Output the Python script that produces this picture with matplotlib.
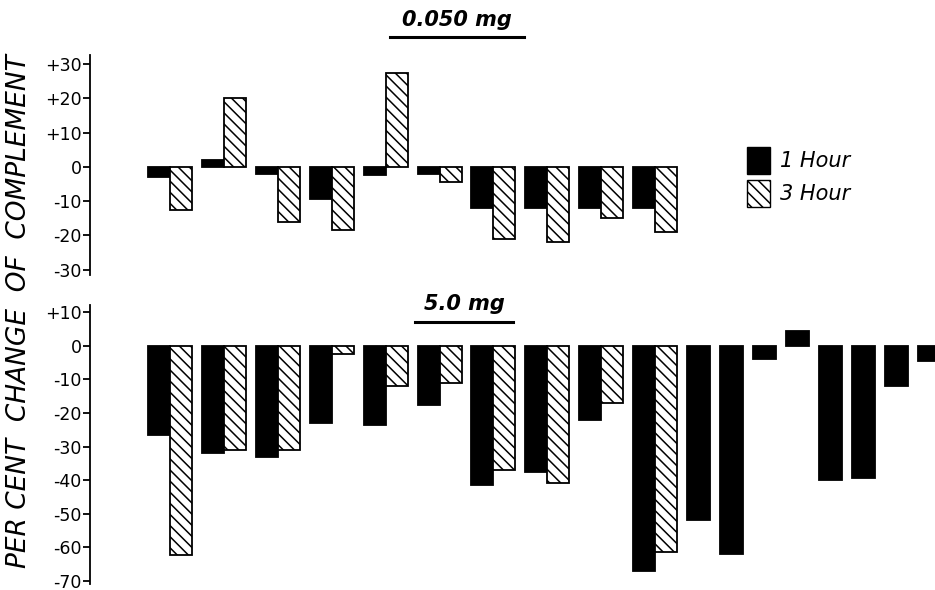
import numpy as np
import matplotlib.pyplot as plt
from matplotlib.patches import Patch

# per cent change of complement, paired groups (1 hour, 3 hour)
low_1h = [-3, 2, -2, -9.5, -2.5, -2, -12, -12, -12, -12]
low_3h = [-12.5, 20, -16, -18.5, 27.5, -4.5, -21, -22, -15, -19]

high_1h = [-26.5, -32, -33, -23, -23.5, -17.5, -41.5, -37.5, -22, -67]
high_3h = [-62.5, -31, -31, -2.5, -12, -11, -37, -41, -17, -61.5]
# 5.0 mg, 1 hour only
high_1h_only = [-52, -62, -4, 4.5, -40, -39.5, -12, -4.5]

title_low = '0.050 mg'
title_high = '5.0 mg'
ylabel = 'PER CENT  CHANGE  OF  COMPLEMENT'
low_ticks = [30, 20, 10, 0, -10, -20, -30]
high_ticks = [10, 0, -10, -20, -30, -40, -50, -60, -70]


def tick_label(v):
    return f'+{v}' if v > 0 else str(v)


plt.rcParams['hatch.linewidth'] = 1.1
FIG_W, FIG_H = 935, 590
fig = plt.figure(figsize=(FIG_W / 100, FIG_H / 100), dpi=100)

# layout in pixel-like x units
X0, STEP, BW, SSTEP = 148, 53.9, 22, 33
X_LEFT, X_RIGHT = 90, 935


def px_axes(top, bottom):
    return fig.add_axes([X_LEFT / FIG_W, 1 - bottom / FIG_H,
                         (X_RIGHT - X_LEFT) / FIG_W, (bottom - top) / FIG_H])


def style(ax, ticks):
    for s in ['top', 'right', 'bottom']:
        ax.spines[s].set_visible(False)
    ax.spines['left'].set_linewidth(1.3)
    ax.set_xticks([])
    ax.set_yticks(ticks)
    ax.set_yticklabels([tick_label(t) for t in ticks], fontsize=12.5)
    ax.tick_params(axis='y', direction='out', length=5, width=1.3, pad=1)
    ax.set_xlim(X_LEFT, X_RIGHT)


def pairs(ax, v1, v3):
    gx = X0 + STEP * np.arange(len(v1))
    ax.bar(gx, v1, width=BW, align='edge', color='black',
           edgecolor='black', linewidth=1.3)
    ax.bar(gx + BW, v3, width=BW, align='edge', color='white',
           edgecolor='black', linewidth=1.3, hatch='\\\\\\')
    return gx


ax1 = px_axes(55, 275)
style(ax1, low_ticks)
ax1.set_ylim(-31.6, 32.7)
pairs(ax1, low_1h, low_3h)

ax2 = px_axes(305, 584)
style(ax2, high_ticks)
ax2.set_ylim(-71.0, 12.2)
gx = pairs(ax2, high_1h, high_3h)
sx = gx[-1] + STEP + SSTEP * np.arange(len(high_1h_only))
ax2.bar(sx, high_1h_only, width=BW + 1, align='edge', color='black',
        edgecolor='black', linewidth=1.3)

# titles, underlined
for txt, x, y, uy, w in [(title_low, 457, 20, 37, 134),
                         (title_high, 464, 304, 322, 98)]:
    fig.text(x / FIG_W, 1 - y / FIG_H, txt, fontsize=15, fontweight='bold',
             style='italic', ha='center', va='center')
    fig.add_artist(plt.Line2D([(x - w / 2) / FIG_W, (x + w / 2) / FIG_W],
                              [1 - uy / FIG_H] * 2, color='black', lw=2.2))

fig.text(19 / FIG_W, 1 - 311 / FIG_H, ylabel, rotation=90, style='italic',
         fontsize=19, ha='center', va='center')

handles = [Patch(facecolor='black', edgecolor='black', label='1 Hour'),
           Patch(facecolor='white', edgecolor='black', hatch='\\\\\\',
                 label='3 Hour')]
leg = ax1.legend(handles=handles, loc='center left',
                 bbox_to_anchor=((728 - X_LEFT) / (X_RIGHT - X_LEFT), 0.445),
                 frameon=False, handlelength=1.1, handleheight=1.6,
                 handletextpad=0.5, labelspacing=0.3,
                 prop={'size': 15, 'style': 'italic'})

fig.savefig('out.png', dpi=100)
